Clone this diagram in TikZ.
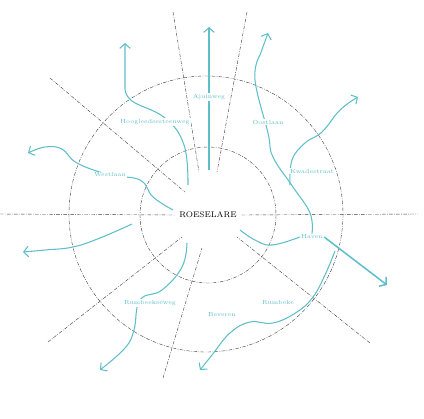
\documentclass[tikz,border=0pt]{standalone}
\usetikzlibrary{arrows.meta}
\definecolor{RSteal}{HTML}{5DBFC8}
\definecolor{RSgrey}{HTML}{3A3A3A}

\begin{document}
\begin{tikzpicture}[x=0.03cm,y=-0.03cm,
    ring/.style={draw=RSgrey,line width=0.35pt,dash pattern=on 3pt off 1.2pt on 0.6pt off 1.2pt},
    route/.style={draw=RSteal,line width=0.9pt},
    way/.style={route,-{Straight Barb[length=4pt,width=9pt]}},
    lbl/.style={text=RSteal,font=\tiny,fill=white,inner sep=1pt}]
    \useasboundingbox (0,0) rectangle (424,418);

    % rings and sector lines
    \draw[ring] (206,214) ellipse[x radius=137,y radius=138];
    \draw[ring] (208,215) ellipse[x radius=68,y radius=68];
    \node[font=\scriptsize,text=black,inner sep=4pt] (ctr) at (208,215) {ROESELARE};
    \draw[ring] (0,214) -- (ctr.west);
    \draw[ring] (ctr.east) -- (418,214);
    \draw[ring] (173,12) -- (199,172);
    \draw[ring] (247,12) -- (217,172);
    \draw[ring] (50,78) -- (185,192);
    \draw[ring] (48,342) -- (182,237);
    \draw[ring] (163,378) -- (202,248);
    \draw[ring] (370,343) -- (237,237);

    % routes
    \draw[way] (209,170) -- (209,27);
    \draw[way] plot[smooth,tension=0.7] coordinates {(188,185) (184,145) (165,118) (132,101) (125,88)} -- (125,43);
    \draw[way] plot[smooth,tension=0.7] coordinates {(173,210) (153,197) (140,180) (110,175) (77,163) (62,149) (45,147) (28,153)};
    \draw[way] plot[smooth,tension=0.7] coordinates {(132,224) (100,238) (73,247) (45,250) (23,252)};
    \draw[way] plot[smooth,tension=0.7] coordinates {(187,243) (182,267) (162,290) (140,300) (134,330) (125,348) (100,370)};
    \node[lbl,fill=none] (haven) at (312,237) {Haven};
    \draw[route] plot[smooth,tension=0.7] coordinates {(haven.north) (310,213) (293,187) (273,157) (268,133) (255,80) (260,55)};
    \draw[way] (260,55) -- (268,33);
    \draw[way] plot[smooth,tension=0.7] coordinates {(290,185) (292,160) (305,143) (322,132) (340,110) (358,97)};
    \draw[route] plot[smooth,tension=0.7] coordinates {(240,230) (255,240) (272,245) (haven.west)};
    \draw[route,line width=1.3pt,-{Straight Barb[length=4pt,width=10pt]}] (haven.east) -- (387,285);
    \draw[way] plot[smooth,tension=0.7] coordinates {(335,251) (325,275) (313,297) (297,312) (273,323) (250,322) (230,333) (212,355) (200,370)};

    % labels
    \node[lbl] (ajuin) at (209,97) {Ajuinweg};
    \node[lbl] (hoogl) at (155,122) {Hoogleedsesteenweg};
    \node[lbl] (oost) at (268,122) {Oostlaan};
    \node[lbl] (kwade) at (312,171) {Kwadestraat};
    \node[lbl] (west) at (110,175) {Westlaan};
    \node[lbl] (rumb) at (150,303) {Rumbeekseweg};
    \node[lbl] (bev) at (222,315) {Beveren};
    \node[lbl] (rumbk) at (278,303) {Rumbeke};
\end{tikzpicture}
\end{document}
